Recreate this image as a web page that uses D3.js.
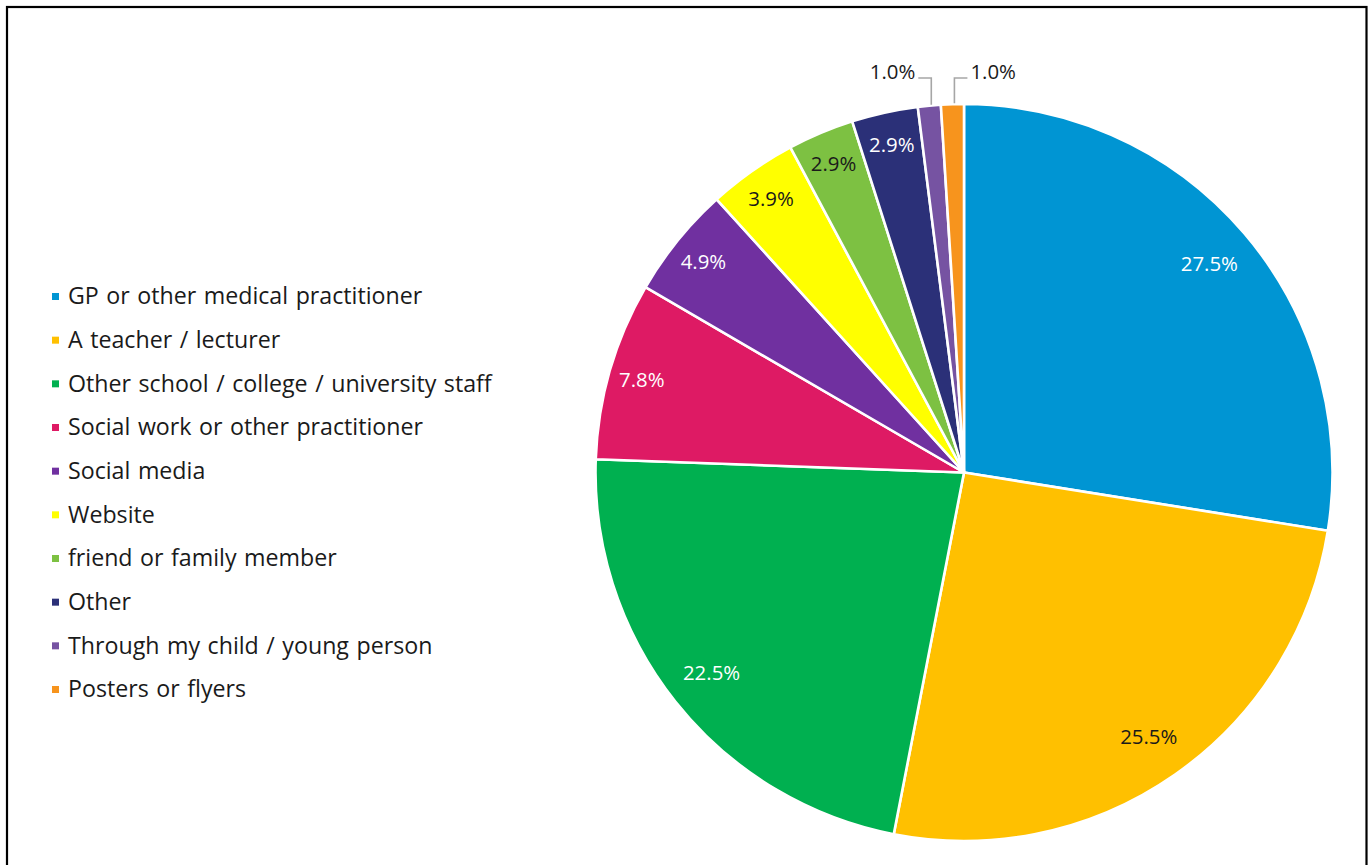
<!DOCTYPE html>
<html>
<head>
<meta charset="utf-8">
<script src="https://cdn.jsdelivr.net/npm/d3@7"></script>
<style>
  html, body { margin: 0; padding: 0; background: #ffffff; }
  svg { display: block; }
  text { font-family: "Open Sans", "DejaVu Sans", sans-serif; font-weight: 500; }
</style>
</head>
<body>
<svg id="chart" width="1371" height="865"></svg>
<script>
// How people heard about the service (share of responses, %)
const categories = [
  "GP or other medical practitioner",
  "A teacher / lecturer",
  "Other school / college / university staff",
  "Social work or other practitioner",
  "Social media",
  "Website",
  "friend or family member",
  "Other",
  "Through my child / young person",
  "Posters or flyers"
];
const values = [27.5, 25.5, 22.5, 7.8, 4.9, 3.9, 2.9, 2.9, 1.0, 1.0];
const colors = [
  "#0095D3", "#FFC000", "#00B050", "#DE1A64", "#7030A0",
  "#FFFF00", "#7DC142", "#2B3078", "#7653A2", "#F7941D"
];

const svg = d3.select("#chart");

// frame
svg.append("rect")
  .attr("x", 7).attr("y", 7)
  .attr("width", 1359.5).attr("height", 920)
  .attr("fill", "none").attr("stroke", "#000").attr("stroke-width", 2.2);

const cx = 964, cy = 472.5, R = 368.5;
const data = categories.map((c, i) => ({ name: c, value: values[i], color: colors[i] }));

const pie = d3.pie().sort(null).value(d => d.value).startAngle(0).endAngle(2 * Math.PI);
const arcs = pie(data);
const arc = d3.arc().innerRadius(0).outerRadius(R);
// big slices keep their labels a little further in than the narrow ones
const bigLabelArc = d3.arc().innerRadius(R * 0.875).outerRadius(R * 0.875);
const narrowLabelArc = d3.arc().innerRadius(R * 0.91).outerRadius(R * 0.91);

const g = svg.append("g").attr("transform", `translate(${cx},${cy})`);

g.selectAll("path.slice")
  .data(arcs)
  .join("path")
  .attr("class", "slice")
  .attr("d", arc)
  .attr("fill", d => d.data.color)
  .attr("stroke", "#fff")
  .attr("stroke-width", 2.6)
  .attr("stroke-linejoin", "round");

const fmt = v => v.toFixed(1) + "%";
const isSmall = d => d.data.value < 1.5;

// inside labels
g.selectAll("text.inlabel")
  .data(arcs.filter(d => !isSmall(d)))
  .join("text")
  .attr("class", "inlabel")
  .attr("transform", d => `translate(${(d.data.value > 10 ? bigLabelArc : narrowLabelArc).centroid(d)})`)
  .attr("text-anchor", "middle")
  .attr("dy", "0.36em")
  .attr("font-size", 20.4)
  .attr("fill", d => d3.lab(d.data.color).l > 65 ? "#1a1a1a" : "#ffffff")
  .text(d => fmt(d.data.value));

// outside labels with elbow leader lines
const small = arcs.filter(isSmall);
const meanAngle = d3.mean(small, d => (d.startAngle + d.endAngle) / 2);
const elbowY = -R - 26;
small.forEach(d => {
  const a = (d.startAngle + d.endAngle) / 2;
  const px = R * Math.sin(a) + 2, py = -R * Math.cos(a);
  const dir = a < meanAngle ? -1 : 1;
  const ex = px + dir * 13;
  g.append("path")
    .attr("d", `M${px},${py - 1}L${px},${elbowY}L${ex},${elbowY}`)
    .attr("fill", "none")
    .attr("stroke", "#A6A6A6")
    .attr("stroke-width", 1.6);
  g.append("text")
    .attr("x", ex + dir * 3)
    .attr("y", elbowY - 6)
    .attr("text-anchor", dir < 0 ? "end" : "start")
    .attr("dy", "0.36em")
    .attr("font-size", 20.4)
    .attr("fill", "#1a1a1a")
    .text(fmt(d.data.value));
});

// legend
const legendY = d3.scalePoint().domain(categories).range([296, 689]);
const legend = svg.append("g");
const items = legend.selectAll("g.item")
  .data(data)
  .join("g")
  .attr("class", "item")
  .attr("transform", d => `translate(52,${legendY(d.name)})`);
items.append("rect")
  .attr("x", 0).attr("y", -3)
  .attr("width", 7).attr("height", 7)
  .attr("fill", d => d.color);
items.append("text")
  .attr("x", 16)
  .attr("dy", "0.36em")
  .attr("font-size", 23.2)
  .attr("word-spacing", 1.5)
  .attr("fill", "#1a1a1a")
  .text(d => d.name);
</script>
</body>
</html>
